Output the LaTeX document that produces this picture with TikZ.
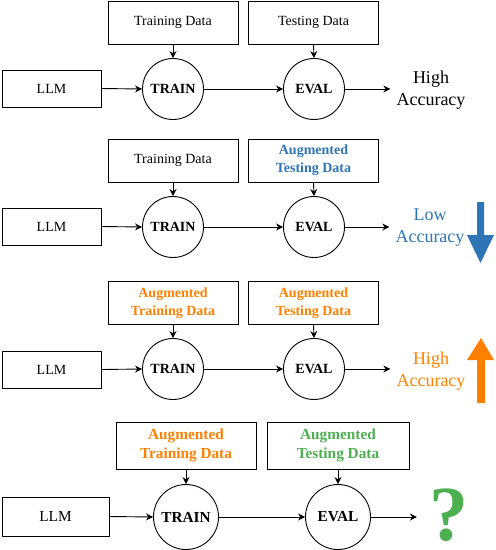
\documentclass[tikz,border=0pt]{standalone}
\usepackage{fontspec}
\setmainfont{Liberation Serif}
\usepackage{tikz}
\usetikzlibrary{positioning,arrows.meta}
\definecolor{lowBlue}{RGB}{46,117,182}
\definecolor{augOrange}{RGB}{255,128,0}
\definecolor{augGreen}{RGB}{76,175,80}

\begin{document}
\begin{tikzpicture}[
    x=1pt, y=-1pt,
    databox/.style={rectangle, draw, line width=0.9pt, minimum width=130pt, minimum height=43pt, align=center, inner sep=2pt, font=\fontsize{14}{18}\selectfont},
    modelbox/.style={rectangle, draw, line width=0.9pt, minimum width=99pt, minimum height=37pt, font=\fontsize{14}{17}\selectfont},
    stage/.style={circle, draw, line width=0.9pt, minimum size=61pt, inner sep=0pt, font=\bfseries\fontsize{14}{17}\selectfont},
    flow/.style={-{Stealth[length=7pt,width=7pt]}, line width=0.9pt},
    result/.style={align=center, inner sep=6pt, font=\fontsize{18}{22}\selectfont},
    augtext/.style={font=\bfseries\fontsize{14}{18}\selectfont}
]
\useasboundingbox (0,0) rectangle (496,550);

% Row 1: plain data
\node[databox] (train1) at (173,22.5) {Training Data};
\node[databox] (test1) at (313.5,22.5) {Testing Data};
\node[modelbox] (llm1) at (51.5,88.5) {LLM};
\node[stage] (trainc1) at (173,89) {TRAIN};
\node[stage] (evalc1) at (314,89) {EVAL};
\node[result] (res1) at (431,90) {High\\Accuracy};
\draw[flow] (llm1.east) -- (trainc1.west);
\draw[flow] (trainc1.east) -- (evalc1.west);
\draw[flow] (train1.south) -- (trainc1.north);
\draw[flow] (test1.south) -- (evalc1.north);
\draw[flow] (evalc1.east) -- (evalc1.east -| res1.west);

% Row 2: augmented testing data
\node[databox] (train2) at (173,160.5) {Training Data};
\node[databox, augtext, text=lowBlue] (test2) at (313.5,160.5) {Augmented\\Testing Data};
\node[modelbox] (llm2) at (51.5,226.5) {LLM};
\node[stage] (trainc2) at (173,227) {TRAIN};
\node[stage] (evalc2) at (314,227) {EVAL};
\node[result, text=lowBlue] (res2) at (430,228) {Low\\Accuracy};
\draw[flow] (llm2.east) -- (trainc2.west);
\draw[flow] (trainc2.east) -- (evalc2.west);
\draw[flow] (train2.south) -- (trainc2.north);
\draw[flow] (test2.south) -- (evalc2.north);
\draw[flow] (evalc2.east) -- (evalc2.east -| res2.west);
\fill[lowBlue] (477,202) -- (484,202) -- (484,235) -- (494,235) -- (480.5,263) -- (467,235) -- (477,235) -- cycle;

% Row 3: augmented training and testing data
\node[databox, augtext, text=augOrange] (train3) at (173,303) {Augmented\\Training Data};
\node[databox, augtext, text=augOrange] (test3) at (313.5,303) {Augmented\\Testing Data};
\node[modelbox] (llm3) at (51.5,369.5) {LLM};
\node[stage] (trainc3) at (173,369) {TRAIN};
\node[stage] (evalc3) at (314,369) {EVAL};
\node[result, text=augOrange] (res3) at (431,371) {High\\Accuracy};
\draw[flow] (llm3.east) -- (trainc3.west);
\draw[flow] (trainc3.east) -- (evalc3.west);
\draw[flow] (train3.south) -- (trainc3.north);
\draw[flow] (test3.south) -- (evalc3.north);
\draw[flow] (evalc3.east) -- (evalc3.east -| res3.west);
\fill[augOrange] (477,403) -- (485,403) -- (485,360) -- (494,360) -- (481,338) -- (467,360) -- (477,360) -- cycle;

% Row 4: unknown outcome
\node[databox, minimum width=140pt, minimum height=47pt, font=\bfseries\fontsize{15.3}{19.7}\selectfont, text=augOrange] (train4) at (186,445.5) {Augmented\\Training Data};
\node[databox, minimum width=142pt, minimum height=47pt, font=\bfseries\fontsize{15.3}{19.7}\selectfont, text=augGreen] (test4) at (338,445.5) {Augmented\\Testing Data};
\node[modelbox, minimum width=107pt, minimum height=39pt, font=\fontsize{15.3}{18}\selectfont] (llm4) at (55.5,516.5) {LLM};
\node[stage, minimum size=65pt, font=\bfseries\fontsize{15.3}{18}\selectfont] (trainc4) at (186,517) {TRAIN};
\node[stage, minimum size=65pt, font=\bfseries\fontsize{15.3}{18}\selectfont] (evalc4) at (338,517) {EVAL};
\node[text=augGreen, inner sep=0pt, font=\bfseries\fontsize{78}{78}\selectfont] (res4) at (449,515) {?};
\draw[flow] (llm4.east) -- (trainc4.west);
\draw[flow] (trainc4.east) -- (evalc4.west);
\draw[flow] (train4.south) -- (trainc4.north);
\draw[flow] (test4.south) -- (evalc4.north);
\draw[flow] (evalc4.east) -- ++(46,0);

\end{tikzpicture}
\end{document}
